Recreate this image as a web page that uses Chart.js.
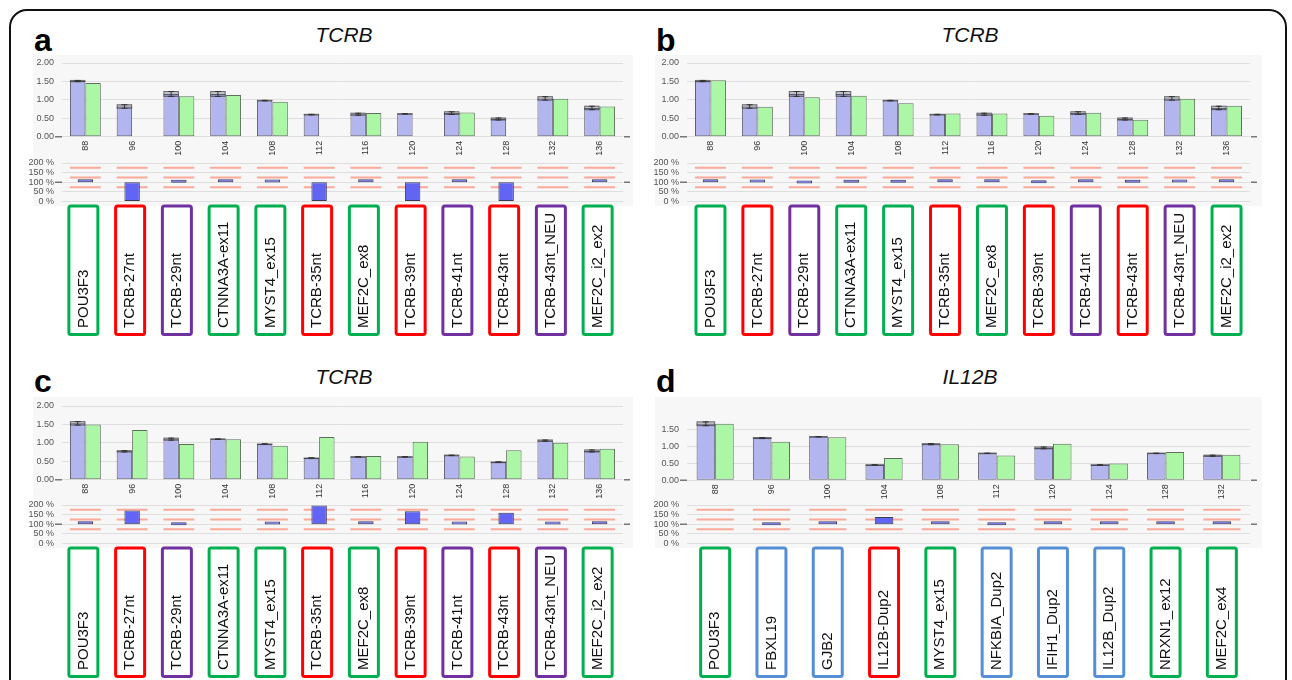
<!DOCTYPE html>
<html>
<head>
<meta charset="utf-8">
<script src="https://cdn.jsdelivr.net/npm/chart.js"></script>
<style>
  html, body { margin:0; padding:0; background:#fff; }
  body { width:1292px; height:680px; position:relative; overflow:hidden; font-family:Arial, "Liberation Sans", sans-serif; }
  .frame { position:absolute; left:9px; top:9px; width:1274px; height:720px; border:2px solid #111; border-radius:18px; }
  .bg { position:absolute; background:#f7f7f7; }
  .letter { position:absolute; font-weight:bold; font-size:32px; line-height:32px; color:#000; }
  .title { position:absolute; width:200px; text-align:center; font-style:italic; font-size:21px; line-height:21px; color:#111; }
  canvas { position:absolute; }
</style>
</head>
<body>
<div class="frame"></div>
<div class="bg" style="left:33px;top:55px;width:600px;height:151px"></div>
<div class="bg" style="left:655px;top:55px;width:607px;height:151px"></div>
<div class="bg" style="left:33px;top:397px;width:600px;height:151px"></div>
<div class="bg" style="left:655px;top:397px;width:607px;height:151px"></div>

<div class="letter" style="left:34px;top:24px">a</div>
<div class="letter" style="left:656px;top:24px">b</div>
<div class="letter" style="left:34px;top:365px">c</div>
<div class="letter" style="left:656px;top:365px">d</div>
<div class="title" style="left:244px;top:24px">TCRB</div>
<div class="title" style="left:870px;top:24px">TCRB</div>
<div class="title" style="left:244px;top:366px">TCRB</div>
<div class="title" style="left:870px;top:366px">IL12B</div>

<script>
// ---------- data ----------
const tcrbCategories = ['88','96','100','104','108','112','116','120','124','128','132','136'];
const tcrbProbes = ['POU3F3','TCRB-27nt','TCRB-29nt','CTNNA3A-ex11','MYST4_ex15','TCRB-35nt','MEF2C_ex8','TCRB-39nt','TCRB-41nt','TCRB-43nt','TCRB-43nt_NEU','MEF2C_i2_ex2'];
const tcrbProbeTypes = ['green','red','purple','green','green','red','green','red','purple','red','purple','green'];

const aReference = [1.51,0.82,1.16,1.16,0.98,0.60,0.61,0.62,0.64,0.48,1.04,0.78];
const aReferenceSD = [0.03,0.06,0.08,0.08,0.02,0.02,0.04,0.02,0.05,0.04,0.06,0.06];
const aSample = [1.46,null,1.10,1.13,0.95,null,0.64,null,0.66,null,1.03,0.82];
const aRatio = [100,0,98,100,99,0,104,0,103,0,null,105];

const bReference = [1.51,0.82,1.16,1.16,0.98,0.60,0.61,0.62,0.64,0.48,1.04,0.78];
const bReferenceSD = [0.03,0.06,0.08,0.08,0.02,0.02,0.04,0.02,0.05,0.04,0.06,0.06];
const bSample = [1.53,0.81,1.07,1.11,0.91,0.63,0.63,0.57,0.65,0.46,1.03,0.84];
const bRatio = [101,99,94,98,98,106,104,95,101,98,99,106];

const cReference = [1.53,0.77,1.10,1.10,0.97,0.59,0.62,0.62,0.66,0.48,1.06,0.78];
const cReferenceSD = [0.06,0.03,0.04,0.02,0.01,0.01,0.02,0.02,0.02,0.01,0.03,0.04];
const cSample = [1.50,1.35,0.97,1.10,0.92,1.16,0.64,1.03,0.63,0.80,1.00,0.84];
const cRatio = [100,172,95,null,99,197,104,167,99,160,99,104];

const dCategories = ['88','96','100','104','108','112','120','124','128','132'];
const dProbes = ['POU3F3','FBXL19','GJB2','IL12B-Dup2','MYST4_ex15','NFKBIA_Dup2','IFIH1_Dup2','IL12B_Dup2','NRXN1_ex12','MEF2C_ex4'];
const dProbeTypes = ['green','blue','blue','red','green','blue','blue','blue','green','green'];
const dReference = [1.66,1.24,1.28,0.45,1.06,0.79,0.95,0.45,0.79,0.72];
const dReferenceSD = [0.07,0.03,0.02,0.02,0.03,0.02,0.04,0.02,0.02,0.03];
const dSample = [1.66,1.13,1.26,0.65,1.06,0.73,1.07,0.49,0.83,0.75];
const dRatio = [null,95,100,138,101,95,110,103,103,105];

const ratioThresholds = [75,125,175];
const ratioTicks = [0,50,100,150,200];

// ---------- styles ----------
const boxColors = { green:'#00b050', red:'#ff0000', purple:'#7030a0', blue:'#558ed5' };
Chart.defaults.font.family = 'Arial, "Liberation Sans", sans-serif';
Chart.defaults.animation = false;

const GROUP = 0.66;

const baseTickPlugin = {
  id:'baseTick',
  afterDraw(chart, args, opts) {
    const {ctx, chartArea} = chart;
    const y = chart.scales.y.getPixelForValue(opts.value);
    ctx.save();
    ctx.strokeStyle = '#777';
    ctx.lineWidth = 1.5;
    ctx.beginPath();
    ctx.moveTo(chartArea.left - 7, y); ctx.lineTo(chartArea.left, y);
    ctx.moveTo(chartArea.right + 1, y); ctx.lineTo(chartArea.right + 7, y);
    ctx.stroke();
    ctx.restore();
  }
};

const errorPlugin = {
  id:'errorBox',
  afterDatasetsDraw(chart, args, opts) {
    const {ctx} = chart;
    const ys = chart.scales.y;
    const meta = chart.getDatasetMeta(0);
    const vals = chart.data.datasets[0].data;
    ctx.save();
    meta.data.forEach((bar, i) => {
      const v = vals[i], sd = opts.sd[i];
      if (v == null || sd == null) return;
      const yt = ys.getPixelForValue(v + sd), yb = ys.getPixelForValue(v - sd);
      const x0 = bar.x - bar.width / 2, x1 = bar.x + bar.width / 2;
      ctx.fillStyle = 'rgba(95,95,105,0.35)';
      ctx.fillRect(x0, yt, x1 - x0, Math.max(yb - yt, 1.5));
      ctx.strokeStyle = 'rgba(70,70,80,0.7)';
      ctx.lineWidth = 1;
      ctx.strokeRect(x0 + 0.5, yt + 0.5, x1 - x0 - 1, Math.max(yb - yt - 1, 0.5));
      ctx.strokeStyle = '#333';
      ctx.beginPath();
      ctx.moveTo(bar.x, yt); ctx.lineTo(bar.x, yb);
      ctx.moveTo(bar.x - 3, yt + 0.5); ctx.lineTo(bar.x + 3, yt + 0.5);
      ctx.moveTo(bar.x - 3, yb - 0.5); ctx.lineTo(bar.x + 3, yb - 0.5);
      ctx.stroke();
    });
    ctx.restore();
  }
};

const thresholdPlugin = {
  id:'thresholds',
  beforeDatasetsDraw(chart) {
    const {ctx} = chart;
    const xs = chart.scales.x, ys = chart.scales.y;
    const n = chart.data.labels.length;
    const half = (xs.width / n) * GROUP / 2;
    ctx.save();
    ctx.strokeStyle = '#fba999';
    ctx.lineWidth = 2;
    ctx.beginPath();
    for (let i = 0; i < n; i++) {
      const x = xs.getPixelForValue(i);
      ratioThresholds.forEach(t => {
        const y = ys.getPixelForValue(t);
        ctx.moveTo(x - half, y); ctx.lineTo(x + half, y);
      });
    }
    ctx.stroke();
    ctx.restore();
  }
};

const probeBoxPlugin = {
  id:'probeBoxes',
  afterDraw(chart, args, opts) {
    const {ctx} = chart;
    const xs = chart.scales.x;
    const n = chart.data.labels.length;
    ctx.save();
    for (let i = 0; i < n; i++) {
      const cx = xs.getPixelForValue(i) + opts.dx;
      const w = 32, top = opts.top, h = opts.bottom - opts.top;
      ctx.strokeStyle = boxColors[opts.types[i]];
      ctx.lineWidth = 3;
      ctx.beginPath();
      if (ctx.roundRect) ctx.roundRect(cx - w/2 + 1.5, top + 1.5, w - 3, h - 3, 2);
      else ctx.rect(cx - w/2 + 1.5, top + 1.5, w - 3, h - 3);
      ctx.stroke();
      ctx.save();
      ctx.translate(cx, opts.bottom - 8);
      ctx.rotate(-Math.PI / 2);
      ctx.fillStyle = '#111';
      ctx.font = '15px Arial, "Liberation Sans", sans-serif';
      ctx.textAlign = 'left';
      ctx.textBaseline = 'middle';
      ctx.fillText(opts.names[i], 0, 0);
      ctx.restore();
    }
    ctx.restore();
  }
};

function addCanvas(left, top, w, h) {
  const c = document.createElement('canvas');
  c.width = w; c.height = h;
  c.style.left = left + 'px'; c.style.top = top + 'px';
  c.style.width = w + 'px'; c.style.height = h + 'px';
  document.body.appendChild(c);
  return c;
}

function buildPanel(p) {
  // main expression chart
  const mainTop = p.plotTop - 20;
  const mainH = Math.round(p.zeroY + 23 - mainTop);
  const mc = addCanvas(p.canvasLeft, mainTop, p.width, mainH);
  const yAxisW = p.chartLeft - p.canvasLeft;
  const padR = p.canvasLeft + p.width - p.chartRight;
  new Chart(mc, {
    type:'bar',
    data:{
      labels:p.categories,
      datasets:[
        {data:p.reference, backgroundColor:'#b3b5ef', borderColor:'#5d5d6e', borderWidth:1, borderSkipped:false, categoryPercentage:GROUP, barPercentage:1},
        {data:p.sample, backgroundColor:'#abf7a6', borderColor:'#5d6e5d', borderWidth:1, borderSkipped:false, categoryPercentage:GROUP, barPercentage:1}
      ]
    },
    options:{
      responsive:false, devicePixelRatio:1,
      layout:{padding:{left:0, right:padR, top:p.plotTop - mainTop, bottom:0}},
      plugins:{legend:{display:false}, tooltip:{enabled:false}, baseTick:{value:0}, errorBox:{sd:p.sd}},
      scales:{
        x:{
          grid:{display:false, drawTicks:false}, border:{display:false},
          ticks:{minRotation:90, maxRotation:90, autoSkip:false, padding:4, font:{size:9}, color:'#333'},
          afterFit:s => { s.height = mainTop + mainH - p.zeroY; }
        },
        y:{
          min:0, max:p.yMax,
          afterBuildTicks:s => { s.ticks = s.ticks.filter(t => Math.abs(t.value / 0.5 - Math.round(t.value / 0.5)) < 1e-6); },
          grid:{color:'#dedede', lineWidth:1, drawTicks:false}, border:{display:false},
          ticks:{stepSize:0.5, autoSkip:false, padding:8, font:{size:9}, color:'#555', callback:v => Number(v).toFixed(2)},
          afterFit:s => { s.width = yAxisW; }
        }
      }
    },
    plugins:[baseTickPlugin, errorPlugin]
  });

  // ratio chart with probe boxes
  const rTop = p.ratioTopY - 20;
  const rH = Math.round(p.boxBottom + 8 - rTop);
  const rc = addCanvas(p.canvasLeft, rTop, p.width, rH);
  new Chart(rc, {
    type:'bar',
    data:{
      labels:p.categories,
      datasets:[{
        data:p.ratio.map(v => v == null ? null : [100, v]),
        backgroundColor:'#6264f3', borderColor:'#3c3c58', borderWidth:1, borderSkipped:false,
        minBarLength:3, categoryPercentage:GROUP, barPercentage:0.5
      }]
    },
    options:{
      responsive:false, devicePixelRatio:1,
      layout:{padding:{left:0, right:padR, top:p.ratioTopY - rTop, bottom:rTop + rH - p.ratioZeroY}},
      plugins:{
        legend:{display:false}, tooltip:{enabled:false}, baseTick:{value:100},
        probeBoxes:{types:p.types, names:p.names, top:p.boxTop - rTop, bottom:p.boxBottom - rTop, dx:p.boxDx}
      },
      scales:{
        x:{display:false},
        y:{
          min:0, max:200,
          afterBuildTicks:s => { s.ticks = ratioTicks.map(v => ({value:v})); },
          grid:{color:'#dedede', lineWidth:1, drawTicks:false}, border:{display:false},
          ticks:{autoSkip:false, padding:8, font:{size:9}, color:'#555', callback:v => v + ' %'},
          afterFit:s => { s.width = yAxisW; }
        }
      }
    },
    plugins:[thresholdPlugin, baseTickPlugin, probeBoxPlugin]
  });
}

const DY = 342.6;
buildPanel({canvasLeft:0, width:645, chartLeft:62, chartRight:623, plotTop:63.3, zeroY:137, yMax:2,
  ratioTopY:162.7, ratioZeroY:201.3, boxTop:204.3, boxBottom:335.7, boxDx:-2,
  categories:tcrbCategories, reference:aReference, sd:aReferenceSD, sample:aSample, ratio:aRatio, names:tcrbProbes, types:tcrbProbeTypes});
buildPanel({canvasLeft:630, width:645, chartLeft:687, chartRight:1250, plotTop:63.3, zeroY:137, yMax:2,
  ratioTopY:162.7, ratioZeroY:201.3, boxTop:204.3, boxBottom:335.7, boxDx:0,
  categories:tcrbCategories, reference:bReference, sd:bReferenceSD, sample:bSample, ratio:bRatio, names:tcrbProbes, types:tcrbProbeTypes});
buildPanel({canvasLeft:0, width:645, chartLeft:62, chartRight:623, plotTop:63.3+DY, zeroY:137+DY, yMax:2,
  ratioTopY:162.7+DY, ratioZeroY:201.3+DY, boxTop:204.3+DY, boxBottom:335.7+DY, boxDx:-2,
  categories:tcrbCategories, reference:cReference, sd:cReferenceSD, sample:cSample, ratio:cRatio, names:tcrbProbes, types:tcrbProbeTypes});
buildPanel({canvasLeft:630, width:645, chartLeft:687, chartRight:1250, plotTop:480-1.8*34, zeroY:480, yMax:1.8,
  ratioTopY:162.7+DY, ratioZeroY:201.3+DY, boxTop:204.3+DY, boxBottom:335.7+DY, boxDx:0,
  categories:dCategories, reference:dReference, sd:dReferenceSD, sample:dSample, ratio:dRatio, names:dProbes, types:dProbeTypes});
</script>
</body>
</html>
